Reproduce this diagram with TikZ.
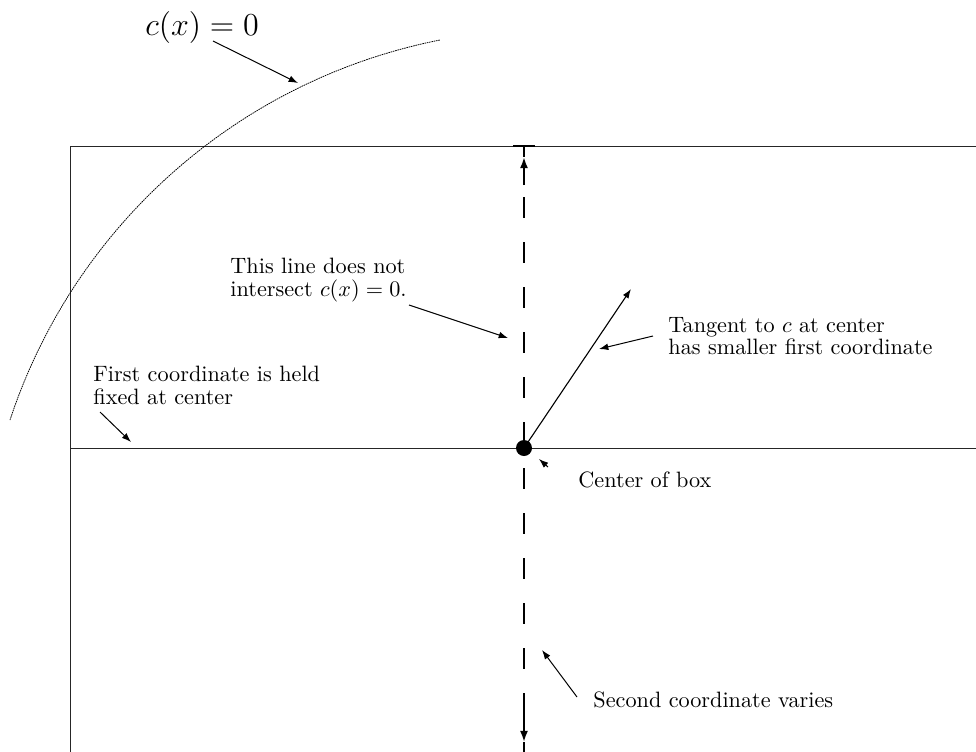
\documentclass[tikz,border=0pt]{standalone}
\usetikzlibrary{arrows.meta}
\begin{document}
\begin{tikzpicture}[x=0.45pt,y=-0.45pt,
  lbl/.style={inner sep=0pt,align=left,font=\fontsize{10pt}{10pt}\selectfont},
  ptr/.style={-{Latex[length=4.2pt,width=3pt]},line width=0.45pt},
  boxline/.style={line width=0.45pt,black!85},
  axis/.style={line width=0.85pt},
  axtip/.style={axis,-{Latex[length=5pt,width=3.6pt]}},
  dashy/.style={axis,dash pattern=on 9.45pt off 10.8pt},
  curve/.style={line width=0.35pt,dash pattern=on 0.7pt off 0.35pt}]
\useasboundingbox (0,0) rectangle (976,751);
\clip (0,0) rectangle (976,751);
% box
\coordinate (TL) at (70,146);
\coordinate (TR) at (990,146);
\coordinate (BL) at (70,760);
\coordinate (ML) at (70,448);
\coordinate (MR) at (990,448);
\draw[boxline] (BL) -- (TL) -- (TR);
\draw[boxline] (ML) -- (MR);
% constraint curve
\coordinate (Cs) at (10,420);
\draw[curve] (Cs) arc[start angle=198.25,end angle=258.8,radius=569];
% vertical dashed line
\coordinate (C) at (524,448);
\coordinate (Ttop) at (524,146);
\coordinate (Ttip) at (524,157);
\coordinate (Tsolid) at (524,185);
\coordinate (Tdash) at (524,197);
\coordinate (Bdash) at (524,468);
\coordinate (Bsolid) at (524,695);
\coordinate (Btip) at (524,742);
\coordinate (Bend) at (524,760);
\coordinate (TeeL) at (513,146);
\coordinate (TeeR) at (535,146);
\draw[axis] (TeeL) -- (TeeR);
\draw[axis] (Ttop) -- (Ttip);
\draw[axtip] (Tsolid) -- (Ttip);
\draw[dashy] (Tdash) -- (C);
\draw[dashy] (Bdash) -- (Bsolid);
\draw[axtip] (Bsolid) -- (Btip);
\draw[axis] (Btip) -- (Bend);
% tangent
\coordinate (Tan) at (631,289);
\draw[ptr,line width=0.5pt] (C) -- (Tan);
\node[circle,fill,minimum size=7.2pt,inner sep=0pt] (dot) at (C) {};
% labels
\node[inner sep=0pt,anchor=west,font=\fontsize{14.4pt}{17pt}\selectfont] (lc) at (145,27) {$c(x)=0$};
\coordinate (lcA) at (213,41);
\coordinate (lcB) at (298,83);
\draw[ptr] (lcA) -- (lcB);

\node[lbl,anchor=north west] (ll) at (230,258) {This line does not\\intersect $c(x)=0$.};
\coordinate (llA) at (409,305);
\coordinate (llB) at (508,338);
\draw[ptr] (llA) -- (llB);

\node[lbl,anchor=north west] (lt) at (668,317) {Tangent to $c$ at center\\has smaller first coordinate};
\coordinate (ltA) at (653,336);
\coordinate (ltB) at (599,349);
\draw[ptr] (ltA) -- (ltB);

\node[lbl,anchor=north west] (lf) at (93,366) {First coordinate is held\\fixed at center};
\coordinate (lfA) at (100,412);
\coordinate (lfB) at (131,442);
\draw[ptr] (lfA) -- (lfB);

\node[lbl,anchor=west] (lb) at (578,480) {Center of box};
\coordinate (lbA) at (548,467);
\coordinate (lbB) at (539,459);
\draw[ptr] (lbA) -- (lbB);

\node[lbl,anchor=west] (ls) at (593,700) {Second coordinate varies};
\coordinate (lsA) at (577,697);
\coordinate (lsB) at (542,650);
\draw[ptr] (lsA) -- (lsB);
\end{tikzpicture}
\end{document}
